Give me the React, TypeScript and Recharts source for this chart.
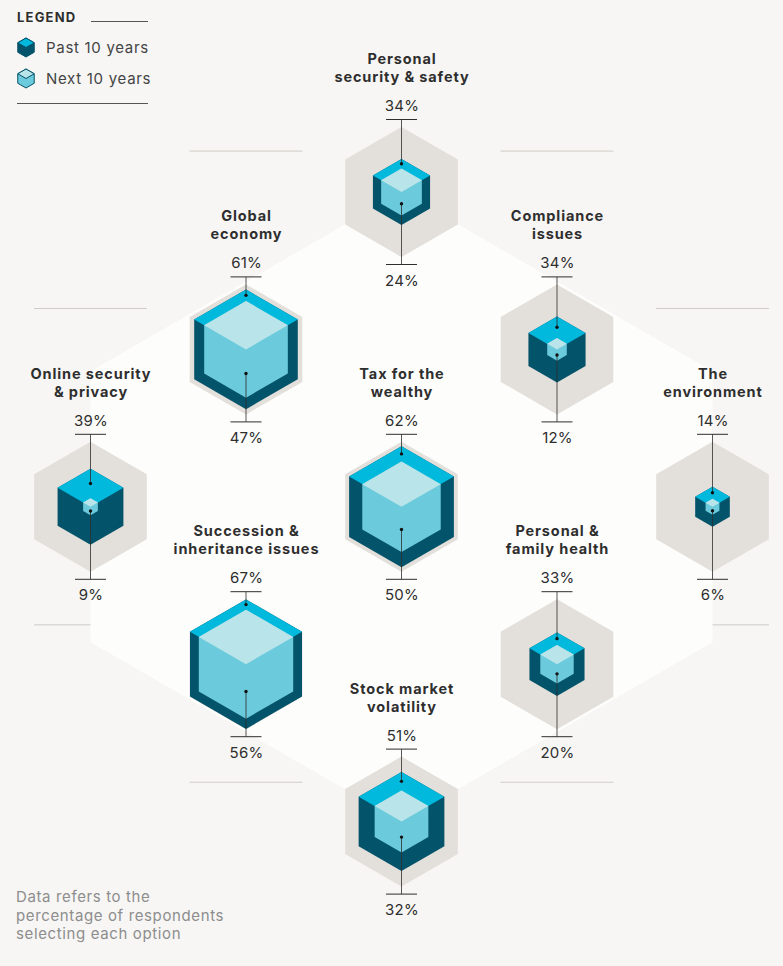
import React from "react";
import { ScatterChart, Scatter, XAxis, YAxis, ReferenceLine, Legend } from "recharts";

const CATEGORIES = [
  ["Personal", "security & safety"],
  ["Global", "economy"],
  ["Compliance", "issues"],
  ["Online security", "& privacy"],
  ["Tax for the", "wealthy"],
  ["The", "environment"],
  ["Succession &", "inheritance issues"],
  ["Personal &", "family health"],
  ["Stock market", "volatility"],
];
const PAST_10 = [34, 61, 34, 39, 62, 14, 67, 33, 51];
const NEXT_10 = [24, 47, 12, 9, 50, 6, 56, 20, 32];
const GRID_COL = [2, 1, 3, 0, 2, 4, 1, 3, 2];
const GRID_ROW = [0, 1, 1, 2, 2, 2, 3, 3, 4];
const SEPARATORS_ODD_ROWS = [-0.26, 1.75, 3.75];
const SEPARATORS_EVEN_ROWS = [0.74, 2.75];
const FOOTNOTE = ["Data refers to the", "percentage of respondents", "selecting each option"];

const table = CATEGORIES.map((title, i) => ({
  title,
  past: PAST_10[i],
  next: NEXT_10[i],
  col: GRID_COL[i],
  row: GRID_ROW[i],
}));

const PAST_SCALE: [number, number][] = [[14, 20], [33, 31.8], [34, 33], [39, 38], [51, 49.5], [61, 59.8], [62, 60.5], [67, 64.7]];
const NEXT_SCALE: [number, number][] = [[6, 8], [9, 8.5], [12, 11.3], [20, 19.3], [24, 23.5], [32, 31], [47, 48.3], [50, 45.3], [56, 54.5]];
const radius = (scale: [number, number][], v: number) => {
  for (let i = 0; i < scale.length - 1; i++) {
    const [a, ra] = scale[i];
    const [b, rb] = scale[i + 1];
    if (v >= a && v <= b) return ra + ((v - a) / (b - a)) * (rb - ra);
  }
  return v * 0.97;
};

const C = {
  bg: "#f7f6f4",
  white: "#fdfdfc",
  gray: "#e3dfda",
  sep: "#cfccc7",
  cyan: "#00b9dd",
  dark: "#03536a",
  light: "#b9e4e9",
  mid: "#6bcadb",
  ink: "#2e2e2e",
  note: "#8d8d8d",
};
const FONT = "Inter, 'Noto Sans', sans-serif";
const HEX_R = 65;
const TICK = 72.5;
const K = 0.866;

const pts = (a: number[][]) => a.map((p) => p.join(",")).join(" ");
const hexPts = (cx: number, cy: number, r: number) =>
  pts([
    [cx, cy - r],
    [cx + r * K, cy - r / 2],
    [cx + r * K, cy + r / 2],
    [cx, cy + r],
    [cx - r * K, cy + r / 2],
    [cx - r * K, cy - r / 2],
  ]);
const topPts = (cx: number, cy: number, r: number) =>
  pts([
    [cx, cy - r],
    [cx + r * K, cy - r / 2],
    [cx, cy],
    [cx - r * K, cy - r / 2],
  ]);

const Cube = ({ cx, cy, r, side, top, stroke }: any) => (
  <g>
    <polygon points={hexPts(cx, cy, r)} fill={side} stroke={stroke} strokeWidth={stroke ? 1 : 0} />
    <polygon points={topPts(cx, cy, r)} fill={top} stroke={stroke} strokeWidth={stroke ? 1 : 0} />
  </g>
);

const BackdropShape = ({ cx, cy }: any) => (
  <polygon
    points={pts([
      [cx, cy - 315],
      [cx + 311, cy - 135.5],
      [cx + 311, cy + 135.5],
      [cx, cy + 315],
      [cx - 311, cy + 135.5],
      [cx - 311, cy - 135.5],
    ])}
    fill={C.white}
  />
);
const GrayShape = ({ cx, cy }: any) => <polygon points={hexPts(cx, cy, HEX_R)} fill={C.gray} />;
const PastShape = ({ cx, cy, payload }: any) => (
  <Cube cx={cx} cy={cy} r={radius(PAST_SCALE, payload.past)} side={C.dark} top={C.cyan} />
);
const NextShape = ({ cx, cy, payload }: any) => (
  <Cube cx={cx} cy={cy} r={radius(NEXT_SCALE, payload.next)} side={C.mid} top={C.light} />
);
const AnnotationShape = ({ cx, cy, payload }: any) => {
  const rp = radius(PAST_SCALE, payload.past);
  const rn = radius(NEXT_SCALE, payload.next);
  const topDot = cy - (rp + rn) / 2;
  const botDot = cy + rn / 2;
  const lbl = { textAnchor: "middle" as const, dominantBaseline: "central" as const, fontFamily: FONT };
  return (
    <g>
      <line x1={cx} x2={cx} y1={cy - TICK} y2={topDot} stroke={C.ink} strokeOpacity={0.8} strokeWidth={1} />
      <line x1={cx} x2={cx} y1={botDot} y2={cy + TICK} stroke={C.ink} strokeOpacity={0.8} strokeWidth={1} />
      <line x1={cx - 15.5} x2={cx + 15.5} y1={cy - TICK} y2={cy - TICK} stroke={C.ink} strokeWidth={1} />
      <line x1={cx - 15.5} x2={cx + 15.5} y1={cy + TICK} y2={cy + TICK} stroke={C.ink} strokeWidth={1} />
      <circle cx={cx} cy={topDot} r={1.7} fill="#111" />
      <circle cx={cx} cy={botDot} r={1.7} fill="#111" />
      <text x={cx + 0.5} y={cy - 86.5} {...lbl} fontSize={15} letterSpacing={0.2} fill={C.ink}>{payload.past}%</text>
      <text x={cx + 0.5} y={cy + 88} {...lbl} fontSize={15} letterSpacing={0.2} fill={C.ink}>{payload.next}%</text>
      {payload.title.map((t: string, i: number) => (
        <text key={i} x={cx + 0.5} y={cy - 133.5 + i * 18} {...lbl} fontSize={14.5} fontWeight={700} letterSpacing={0.88} fill={C.ink}>{t}</text>
      ))}
    </g>
  );
};

const LegendBox = ({ payload }: any) => {
  const items = (payload || []).filter((p: any) => p.type !== "none" && p.value);
  const styles = [
    { side: C.dark, top: C.cyan },
    { side: C.mid, top: C.light },
  ];
  return (
    <svg width={170} height={115} style={{ display: "block" }}>
      <text x={17} y={17} dominantBaseline="central" fontFamily={FONT} fontSize={13} fontWeight={700} letterSpacing={1.2} fill={C.ink}>LEGEND</text>
      <line x1={91} x2={148} y1={21.5} y2={21.5} stroke="#555" />
      {items.map((it: any, i: number) => (
        <g key={it.value}>
          <Cube cx={26} cy={47.5 + i * 31} r={9.5} stroke={C.dark} {...styles[i]} />
          <text x={46} y={47.5 + i * 31} dominantBaseline="central" fontFamily={FONT} fontSize={15} letterSpacing={0.7} fill="#444">{it.value}</text>
        </g>
      ))}
      <line x1={17} x2={148} y1={103.5} y2={103.5} stroke="#555" />
    </svg>
  );
};

export default function App() {
  const shared = { data: table, dataKey: "row", isAnimationActive: false } as const;
  return (
    <div style={{ position: "absolute", left: 0, top: 0, width: 783, height: 966, background: C.bg, overflow: "hidden" }}>
      <ScatterChart width={783} height={966} margin={{ left: 90.5, right: 70.5, top: 192, bottom: 144.4 }}>
        <XAxis type="number" dataKey="col" domain={[0, 4]} hide />
        <YAxis type="number" dataKey="row" domain={[0, 4]} reversed hide />
        <Scatter data={[{ col: 2, row: 2 }]} dataKey="row" isAnimationActive={false} legendType="none" shape={<BackdropShape />} />
        {SEPARATORS_ODD_ROWS.flatMap((r) =>
          [1, 3].map((c) => (
            <ReferenceLine key={`o${r}${c}`} ifOverflow="visible" stroke={C.sep} strokeWidth={1}
              segment={[{ x: c - 0.363, y: r }, { x: c + 0.363, y: r }]} />
          ))
        )}
        {SEPARATORS_EVEN_ROWS.flatMap((r) =>
          [0, 2, 4].map((c) => (
            <ReferenceLine key={`e${r}${c}`} ifOverflow="visible" stroke={C.sep} strokeWidth={1}
              segment={[{ x: c - 0.363, y: r }, { x: c + 0.363, y: r }]} />
          ))
        )}
        <Scatter {...shared} legendType="none" shape={<GrayShape />} />
        <Scatter {...shared} name="Past 10 years" fill={C.cyan} shape={<PastShape />} />
        <Scatter {...shared} name="Next 10 years" fill={C.mid} shape={<NextShape />} />
        <Scatter {...shared} legendType="none" shape={<AnnotationShape />} />
        <Legend layout="vertical" align="center" verticalAlign="middle" itemSorter={null} content={<LegendBox />}
          wrapperStyle={{ position: "absolute", left: 0, top: 0, width: 170, margin: 0 }} />
      </ScatterChart>
      <div style={{ position: "absolute", left: 16, top: 888, fontFamily: FONT, fontSize: 15, lineHeight: "18.5px", letterSpacing: 0.63, color: C.note }}>
        {FOOTNOTE.map((l) => (
          <div key={l}>{l}</div>
        ))}
      </div>
    </div>
  );
}
